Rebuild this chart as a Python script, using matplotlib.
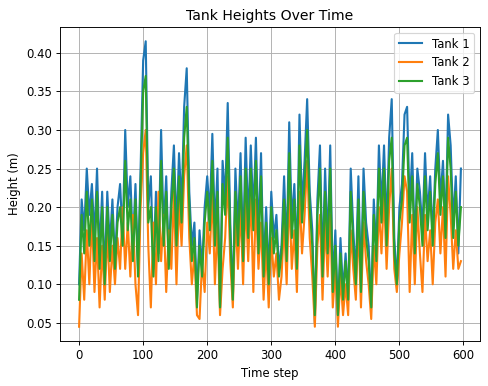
import numpy as np
import matplotlib.pyplot as plt

# time steps sampled every 4 steps
steps = np.arange(0, 600, 4)

tank1 = [0.10, 0.21, 0.17, 0.25, 0.19, 0.23, 0.16, 0.25, 0.14, 0.22,
         0.11, 0.22, 0.15, 0.21, 0.13, 0.20, 0.23, 0.16, 0.30, 0.20,
         0.24, 0.15, 0.23, 0.12, 0.25, 0.39, 0.415, 0.20, 0.24, 0.12,
         0.22, 0.14, 0.30, 0.17, 0.24, 0.13, 0.22, 0.28, 0.17, 0.27,
         0.20, 0.33, 0.38, 0.22, 0.15, 0.18, 0.08, 0.17, 0.12, 0.20,
         0.24, 0.19, 0.295, 0.17, 0.25, 0.07, 0.26, 0.21, 0.335, 0.18,
         0.08, 0.25, 0.17, 0.27, 0.14, 0.29, 0.18, 0.28, 0.19, 0.29,
         0.16, 0.27, 0.12, 0.20, 0.11, 0.22, 0.16, 0.19, 0.12, 0.15,
         0.24, 0.14, 0.31, 0.18, 0.23, 0.13, 0.32, 0.20, 0.26, 0.34,
         0.22, 0.17, 0.05, 0.21, 0.28, 0.12, 0.25, 0.15, 0.28, 0.10,
         0.17, 0.06, 0.16, 0.09, 0.14, 0.08, 0.25, 0.17, 0.11, 0.24,
         0.10, 0.25, 0.18, 0.15, 0.07, 0.21, 0.14, 0.28, 0.20, 0.28,
         0.17, 0.29, 0.34, 0.16, 0.10, 0.20, 0.23, 0.32, 0.33, 0.20,
         0.27, 0.15, 0.25, 0.22, 0.17, 0.27, 0.19, 0.24, 0.16, 0.25,
         0.30, 0.21, 0.26, 0.17, 0.32, 0.28, 0.18, 0.24, 0.14, 0.25]

tank2 = [0.045, 0.14, 0.08, 0.17, 0.10, 0.19, 0.09, 0.16, 0.07, 0.15,
         0.08, 0.17, 0.09, 0.15, 0.10, 0.16, 0.12, 0.20, 0.12, 0.18,
         0.11, 0.19, 0.10, 0.06, 0.20, 0.27, 0.30, 0.15, 0.07, 0.18,
         0.10, 0.22, 0.13, 0.19, 0.09, 0.17, 0.12, 0.22, 0.10, 0.21,
         0.15, 0.24, 0.28, 0.16, 0.10, 0.14, 0.06, 0.055, 0.13, 0.09,
         0.18, 0.14, 0.22, 0.10, 0.18, 0.06, 0.12, 0.16, 0.24, 0.13,
         0.07, 0.19, 0.12, 0.20, 0.10, 0.21, 0.13, 0.22, 0.09, 0.21,
         0.12, 0.18, 0.08, 0.15, 0.07, 0.16, 0.11, 0.14, 0.08, 0.11,
         0.18, 0.10, 0.22, 0.12, 0.17, 0.09, 0.22, 0.14, 0.19, 0.26,
         0.16, 0.11, 0.045, 0.15, 0.19, 0.08, 0.18, 0.11, 0.19, 0.07,
         0.12, 0.045, 0.11, 0.06, 0.10, 0.06, 0.17, 0.12, 0.08, 0.18,
         0.07, 0.18, 0.13, 0.10, 0.055, 0.15, 0.10, 0.20, 0.14, 0.22,
         0.12, 0.20, 0.25, 0.12, 0.09, 0.14, 0.18, 0.24, 0.22, 0.09,
         0.19, 0.10, 0.20, 0.14, 0.09, 0.19, 0.13, 0.17, 0.10, 0.18,
         0.21, 0.14, 0.20, 0.11, 0.24, 0.19, 0.12, 0.17, 0.12, 0.13]

tank3 = [0.08, 0.19, 0.14, 0.22, 0.15, 0.21, 0.13, 0.22, 0.12, 0.20,
         0.10, 0.20, 0.13, 0.19, 0.12, 0.18, 0.20, 0.15, 0.26, 0.17,
         0.21, 0.13, 0.21, 0.11, 0.23, 0.35, 0.37, 0.18, 0.20, 0.11,
         0.20, 0.13, 0.26, 0.15, 0.22, 0.12, 0.20, 0.25, 0.15, 0.24,
         0.18, 0.29, 0.33, 0.20, 0.13, 0.16, 0.07, 0.15, 0.11, 0.18,
         0.22, 0.17, 0.26, 0.15, 0.22, 0.07, 0.23, 0.19, 0.29, 0.16,
         0.08, 0.22, 0.15, 0.24, 0.13, 0.25, 0.16, 0.25, 0.17, 0.26,
         0.14, 0.24, 0.11, 0.18, 0.10, 0.20, 0.14, 0.17, 0.11, 0.14,
         0.21, 0.13, 0.27, 0.16, 0.21, 0.12, 0.28, 0.18, 0.23, 0.30,
         0.20, 0.15, 0.06, 0.19, 0.25, 0.11, 0.22, 0.14, 0.25, 0.09,
         0.15, 0.06, 0.14, 0.08, 0.13, 0.08, 0.22, 0.15, 0.10, 0.21,
         0.09, 0.22, 0.16, 0.13, 0.07, 0.19, 0.13, 0.25, 0.18, 0.25,
         0.15, 0.26, 0.29, 0.14, 0.10, 0.18, 0.21, 0.28, 0.29, 0.18,
         0.24, 0.14, 0.23, 0.20, 0.15, 0.24, 0.17, 0.22, 0.15, 0.23,
         0.27, 0.19, 0.24, 0.16, 0.29, 0.25, 0.16, 0.22, 0.15, 0.20]

# render at a smaller dpi so text and lines scale like the reference
dpi = 84
fig = plt.figure(figsize=(488 / dpi, 386 / dpi), dpi=dpi)
ax = fig.add_axes([60 / 488, 1 - 341 / 386, 420 / 488, 314 / 386])

ax.plot(steps, tank1, label="Tank 1", lw=1.8)
ax.plot(steps, tank2, label="Tank 2", lw=1.8)
ax.plot(steps, tank3, label="Tank 3", lw=1.8)

ax.set_title("Tank Heights Over Time")
ax.set_xlabel("Time step")
ax.set_ylabel("Height (m)")
ax.grid(True)
ax.legend(loc="upper right")

fig.savefig("out.png", dpi=dpi)
